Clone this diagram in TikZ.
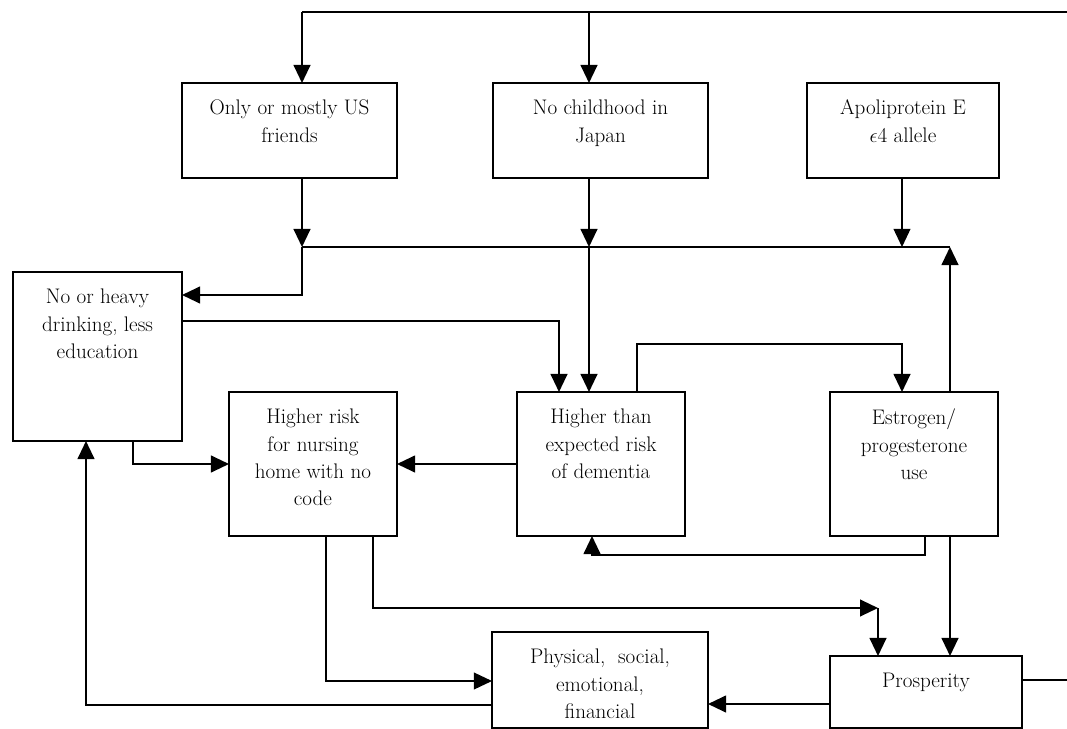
\documentclass[tikz,border=0pt]{standalone}
\usetikzlibrary{arrows.meta,calc}
\begin{document}
\begin{tikzpicture}[x=0.025cm,y=-0.025cm,
  box/.style={draw,line width=1.4pt,inner sep=0pt,outer sep=0pt},
  txt/.style={anchor=north,align=center,inner sep=0pt,font=\fontsize{15}{19.5}\selectfont,yshift=-0.42cm},
  ln/.style={line width=1.2pt},
  arr/.style={line width=1.2pt,-{Triangle[length=0.45cm,width=0.42cm]}}]
\useasboundingbox (0,0) rectangle (1067,729);

% boxes
\node[box,minimum width=5.375cm,minimum height=2.375cm,label={[txt]north:{Only or mostly US\\friends}}] (usf) at (289.5,130.5) {};
\node[box,minimum width=5.375cm,minimum height=2.375cm,label={[txt]north:{No childhood in\\Japan}}] (jpn) at (600.5,130.5) {};
\node[box,minimum width=4.8cm,minimum height=2.375cm,label={[txt]north:{Apoliprotein E\\$\epsilon$4 allele}}] (apoe) at (903,130.5) {};
\node[box,minimum width=4.225cm,minimum height=4.225cm,label={[txt]north:{No or heavy\\drinking, less\\education}}] (drink) at (97.5,356.5) {};
\node[box,minimum width=4.2cm,minimum height=3.6cm,label={[txt]north:{Higher risk\\for nursing\\home with no\\code}}] (nurse) at (313,464) {};
\node[box,minimum width=4.2cm,minimum height=3.6cm,label={[txt]north:{Higher than\\expected risk\\of dementia}}] (dem) at (601,464) {};
\node[box,minimum width=4.2cm,minimum height=3.6cm,label={[txt]north:{Estrogen/\\progesterone\\use}}] (estr) at (914,464) {};
\node[box,minimum width=5.4cm,minimum height=2.4cm,label={[txt]north:{Physical,\ \ social,\\emotional,\\financial}}] (phys) at (600,680) {};
\node[box,minimum width=4.8cm,minimum height=1.8cm,label={[txt]north:{Prosperity}}] (pros) at (926,692) {};

% bend points
\coordinate (topR) at (1067,12);
\coordinate (tUS) at (302,12);
\coordinate (tJP) at (589,12);
\coordinate (mUS) at (302,247);
\coordinate (mJP) at (589,247);
\coordinate (mAP) at (902,247);
\coordinate (mES) at (950,247);
\coordinate (dIn) at (302,295);
\coordinate (dOut) at (559,321);
\coordinate (eLoop) at (637,344);
\coordinate (dDown) at (133,462);
\coordinate (eBot) at (925,555);
\coordinate (dBot) at (592,555);
\coordinate (nR) at (373,608);
\coordinate (pK) at (878,608);
\coordinate (nL) at (326,681);
\coordinate (pP) at (830,704);
\coordinate (back) at (86,705);
\coordinate (prosR) at (1067,680);

% top feed
\draw[ln] (topR) -- (tUS);
\draw[arr] (tUS) -- (tUS |- usf.north);
\draw[arr] (tJP) -- (tJP |- jpn.north);

% merge line
\draw[arr] (mUS |- usf.south) -- (mUS);
\draw[arr] (mJP |- jpn.south) -- (mJP);
\draw[arr,line width=0.8pt] (mAP |- apoe.south) -- (mAP);
\draw[ln] (mUS) -- (mES);
\draw[arr] (mES |- estr.north) -- (mES);
\draw[arr] (mUS) -- (dIn) -- (drink.east |- dIn);
\draw[arr] (mJP) -- (mJP |- dem.north);

% middle row
\draw[arr] (drink.east |- dOut) -| (dOut |- dem.north);
\draw[arr] (eLoop |- dem.north) -- (eLoop) -| (mAP |- estr.north);
\draw[arr] (dem.west) -- (nurse.east);
\draw[arr] (dDown |- drink.south) |- (nurse.west);
\draw[arr] (eBot |- estr.south) |- (dBot) -- (dBot |- dem.south);

% lower part
\draw[arr] (nR |- nurse.south) |- (pK);
\draw[arr] (pK) -- (pK |- pros.north);
\draw[arr] (mES |- estr.south) -- (mES |- pros.north);
\draw[arr,line width=0.8pt] (nL |- nurse.south) |- (phys.west |- nL);
\draw[arr] (pros.west |- pP) -- (phys.east |- pP);
\draw[arr] (phys.west |- back) -| (back |- drink.south);
\draw[ln] (pros.east |- prosR) -- (prosR);
\end{tikzpicture}
\end{document}
